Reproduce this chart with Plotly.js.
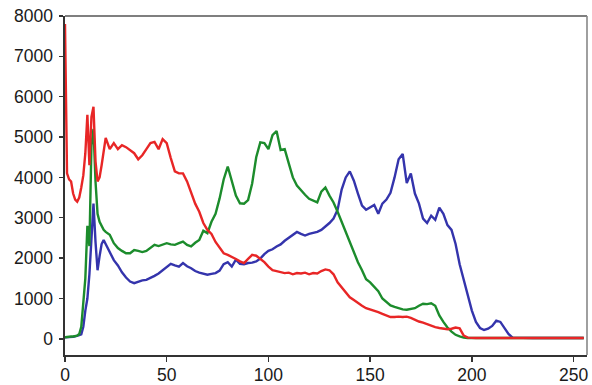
<!DOCTYPE html>
<html>
<head>
<meta charset="utf-8">
<script src="https://cdn.plot.ly/plotly-3.0.1.min.js"></script>
<style>
  html, body { margin: 0; padding: 0; background: #fff; }
  #chart { width: 592px; height: 385px; }
</style>
</head>
<body>
<div id="chart"></div>
<script>
// Intensity levels (bins) sampled along the 0-255 range
const bins = [
  0, 1, 2, 3, 4, 5, 6, 7, 8, 9, 10, 11, 12, 13, 14, 15, 16, 17, 18, 19, 20,
  22, 24, 26, 28, 30, 32, 34, 36, 38, 40, 42, 44, 46, 48, 50,
  52, 54, 56, 58, 60, 62, 64, 66, 68, 70, 72, 74, 76, 78, 80,
  82, 84, 86, 88, 90, 92, 94, 96, 98, 100, 102, 104, 106, 108, 110,
  112, 114, 116, 118, 120, 122, 124, 126, 128, 130, 132, 134, 136, 138, 140,
  142, 144, 146, 148, 150, 152, 154, 156, 158, 160, 162, 164, 166, 168, 170,
  172, 174, 176, 178, 180, 182, 184, 186, 188, 190, 192, 194, 196, 198, 200,
  202, 204, 206, 208, 210, 212, 214, 216, 218, 220,
  225, 230, 235, 240, 245, 250, 255
];

// Pixel counts per channel
const redCounts = [
  7800, 4100, 3950, 3900, 3600, 3450, 3400, 3500, 3750, 4050, 4600, 5550, 4300, 5500, 5750, 4400, 3900, 4000, 4300, 4700, 4980,
  4700, 4850, 4700, 4800, 4750, 4680, 4600, 4450, 4550, 4700, 4850, 4880, 4700, 4950, 4850,
  4480, 4150, 4100, 4100, 3900, 3600, 3350, 3150, 2870, 2700, 2600, 2400, 2250, 2120, 2080,
  2040, 1980, 1920, 1880, 1980, 2080, 2060, 1980, 1900, 1790, 1700, 1680, 1660, 1630, 1640,
  1600, 1630, 1620, 1640, 1600, 1630, 1620, 1680, 1720, 1700, 1600, 1400, 1280, 1150, 1030,
  960, 880, 820, 760, 730, 700, 660, 620, 570, 540, 540, 550, 540, 550, 520,
  470, 430, 400, 360, 320, 290, 270, 260, 240, 250, 280, 260, 80, 30, 20,
  20, 20, 20, 20, 20, 20, 20, 20, 20, 20,
  20, 20, 20, 20, 20, 20, 20
];

const greenCounts = [
  40, 50, 50, 60, 60, 70, 80, 120, 300, 900, 1500, 2800, 2300, 4800, 5200, 3900, 3100, 2900, 2780, 2700, 2650,
  2580, 2370, 2250, 2180, 2120, 2120, 2200, 2180, 2150, 2180, 2250, 2330, 2300, 2330, 2370,
  2340, 2330, 2370, 2410, 2330, 2290, 2380, 2450, 2680, 2620, 2900, 3100, 3480, 3950, 4270,
  3900, 3550, 3360, 3350, 3440, 3850, 4500, 4870, 4850, 4700, 5050, 5150, 4680, 4700, 4350,
  4000, 3800, 3680, 3570, 3470, 3420, 3380, 3650, 3750, 3550, 3380, 3150, 2900, 2620, 2380,
  2150, 1900, 1700, 1480, 1400, 1300, 1180, 1000, 920, 830, 790, 760, 730, 720, 740,
  760, 820, 870, 860, 880, 820, 580, 420, 280, 180, 100, 60, 30, 20, 20,
  20, 20, 20, 20, 20, 20, 20, 20, 20, 20,
  20, 20, 20, 20, 20, 20, 20
];

const blueCounts = [
  40, 40, 40, 50, 50, 60, 70, 90, 110, 300, 700, 1000, 1600, 2600, 3350, 2400, 1700, 2050, 2350, 2450, 2350,
  2120, 1950, 1820, 1650, 1520, 1420, 1380, 1420, 1450, 1460, 1500, 1560, 1620, 1700, 1780,
  1860, 1820, 1790, 1880, 1800, 1750, 1680, 1640, 1620, 1590, 1610, 1630, 1690, 1850, 1900,
  1790, 1960, 1860, 1850, 1880, 1890, 1920, 1990, 2100, 2180, 2220, 2290, 2340, 2430, 2500,
  2560, 2650, 2600, 2560, 2600, 2620, 2650, 2700, 2780, 2870, 2980, 3200, 3700, 4000, 4150,
  3920, 3600, 3300, 3200, 3260, 3320, 3100, 3350, 3450, 3620, 4000, 4450, 4580, 3860, 4100,
  3600, 3350, 2980, 2870, 3050, 2950, 3250, 3100, 2820, 2700, 2350, 1850, 1460, 1050, 700,
  420, 270, 220, 250, 320, 450, 420, 260, 120, 30,
  20, 20, 20, 20, 20, 20, 20
];

const xTicks = [0, 50, 100, 150, 200, 250];
const yTicks = [0, 1000, 2000, 3000, 4000, 5000, 6000, 7000, 8000];

function channel(values, color) {
  return {
    x: bins,
    y: values,
    type: 'scatter',
    mode: 'lines',
    line: { color: color, width: 2.4 },
    hoverinfo: 'skip',
    showlegend: false
  };
}

const traces = [
  channel(blueCounts, 'rgb(52,52,172)'),
  channel(greenCounts, 'rgb(28,140,44)'),
  channel(redCounts, 'rgb(232,38,38)')
];

const axisFont = { family: 'Liberation Sans, Arial, sans-serif', size: 17.5, color: '#1a1a1a' };

const layout = {
  width: 592,
  height: 385,
  margin: { l: 65, r: 5, t: 16, b: 30, pad: 0 },
  paper_bgcolor: '#ffffff',
  plot_bgcolor: '#ffffff',
  showlegend: false,
  xaxis: {
    range: [0, 256.6],
    tickmode: 'array',
    tickvals: xTicks,
    ticktext: xTicks.map(String),
    ticks: 'outside',
    ticklen: 5,
    tickwidth: 1.3,
    tickcolor: '#333',
    ticklabelstandoff: -2,
    showgrid: false,
    zeroline: false,
    showline: true,
    linecolor: '#333',
    linewidth: 1.6,
    tickfont: axisFont,
    fixedrange: true
  },
  yaxis: {
    range: [-400, 8000],
    tickmode: 'array',
    tickvals: yTicks,
    ticktext: yTicks.map(String),
    ticks: 'outside',
    ticklen: 4,
    tickwidth: 1.3,
    tickcolor: '#333',
    ticklabelstandoff: 3,
    showgrid: false,
    zeroline: false,
    showline: true,
    linecolor: '#333',
    linewidth: 1.6,
    tickfont: axisFont,
    fixedrange: true
  },
  shapes: [
    { type: 'line', xref: 'paper', yref: 'paper', x0: 0, x1: 1, y0: 1, y1: 1,
      line: { color: '#555', width: 1.6 } },
    { type: 'line', xref: 'paper', yref: 'paper', x0: 1, x1: 1, y0: 0, y1: 1,
      line: { color: '#888', width: 1.6 } }
  ]
};

Plotly.newPlot('chart', traces, layout, { displayModeBar: false, staticPlot: true });
</script>
</body>
</html>
